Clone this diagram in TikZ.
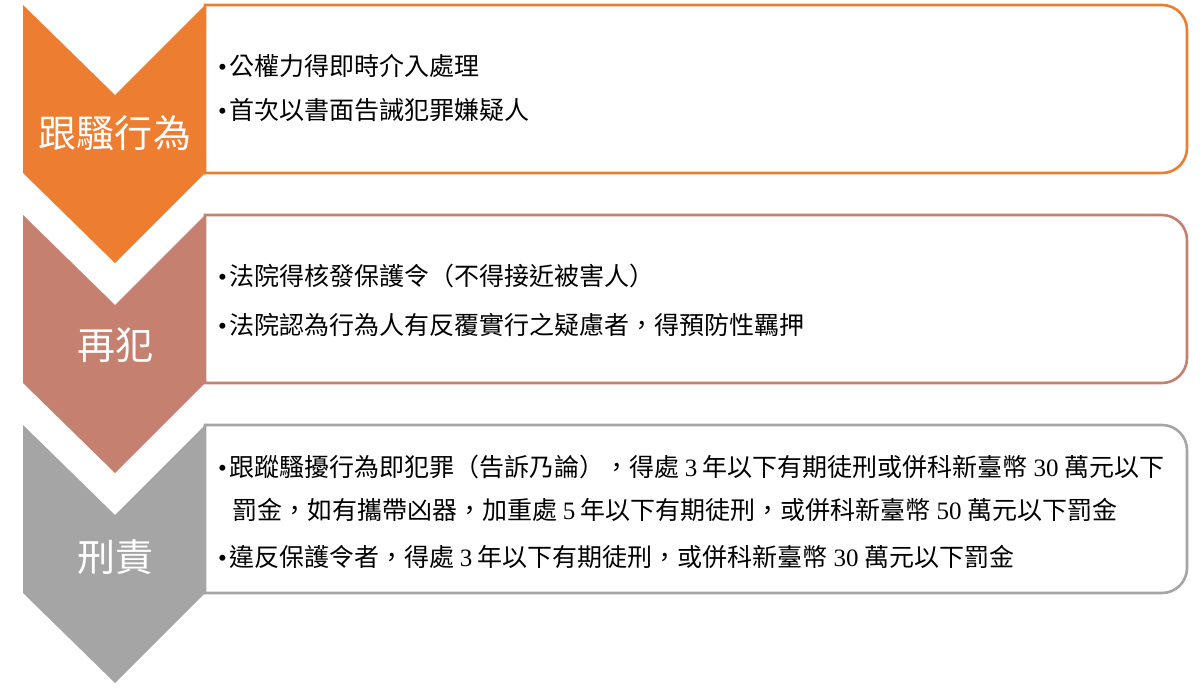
\documentclass[tikz,border=0pt]{standalone}
\usepackage{fontspec}
\setmainfont{Noto Sans CJK TC}
\newfontfamily\latinnum{Liberation Serif}
\definecolor{cOrange}{HTML}{ED7D31}
\definecolor{cSalmon}{HTML}{C5806F}
\definecolor{cGray}{HTML}{A5A5A5}
\newcommand{\nm}[1]{{\latinnum #1}}
\begin{document}
\begin{tikzpicture}[x=1bp,y=-1bp,
  chevlabel/.style={text=white,font=\fontsize{38bp}{44bp}\selectfont,inner sep=0pt},
  boxtext/.style={anchor=west,font=\fontsize{25bp}{30bp}\selectfont,inner sep=0pt},
  bulletmark/.style={anchor=base east,font=\latinnum\fontsize{25bp}{30bp}\selectfont,inner sep=0pt},
  boxframe/.style={line width=2.6bp,fill=white}]
\useasboundingbox (0,0) rectangle (1200,691);
% chevrons
\foreach \t/\c in {5/cOrange,215/cSalmon,425/cGray}{
  \fill[\c] (23,\t) -- (115,\t+90) -- (205,\t) -- (205,\t+168) -- (115,\t+258) -- (23,\t+168) -- cycle;
}
% boxes (rounded on right side only)
\foreach \t/\c in {5/cOrange,215/cSalmon,425/cGray}{
  \draw[boxframe,draw=\c] (205,\t) -- (1162,\t) arc[start angle=-90,end angle=0,radius=25] -- (1187,\t+143) arc[start angle=0,end angle=90,radius=25] -- (205,\t+168) -- cycle;
}
% chevron labels
\node[chevlabel] (l1) at (115,133) {跟騷行為};
\node[chevlabel] (l2) at (115,345) {再犯};
\node[chevlabel] (l3) at (115,557) {刑責};
% box 1
\node[boxtext] (t11) at (229,66) {公權力得即時介入處理};
\node[bulletmark] (b11) at ([xshift=-2bp]t11.base west) {•};
\node[boxtext] (t12) at (229,110) {首次以書面告誡犯罪嫌疑人};
\node[bulletmark] (b12) at ([xshift=-2bp]t12.base west) {•};
% box 2
\node[boxtext] (t21) at (229,276) {法院得核發保護令（不得接近被害人）};
\node[bulletmark] (b21) at ([xshift=-2bp]t21.base west) {•};
\node[boxtext] (t22) at (229,325) {法院認為行為人有反覆實行之疑慮者，得預防性羈押};
\node[bulletmark] (b22) at ([xshift=-2bp]t22.base west) {•};
% box 3
\node[boxtext] (t31) at (229,467) {跟蹤騷擾行為即犯罪（告訴乃論），得處 \nm{3} 年以下有期徒刑或併科新臺幣 \nm{30} 萬元以下};
\node[bulletmark] (b31) at ([xshift=-2bp]t31.base west) {•};
\node[boxtext] (t32) at (232,510) {罰金，如有攜帶凶器，加重處 \nm{5} 年以下有期徒刑，或併科新臺幣 \nm{50} 萬元以下罰金};
\node[boxtext] (t33) at (229,557) {違反保護令者，得處 \nm{3} 年以下有期徒刑，或併科新臺幣 \nm{30} 萬元以下罰金};
\node[bulletmark] (b33) at ([xshift=-2bp]t33.base west) {•};
\end{tikzpicture}
\end{document}
